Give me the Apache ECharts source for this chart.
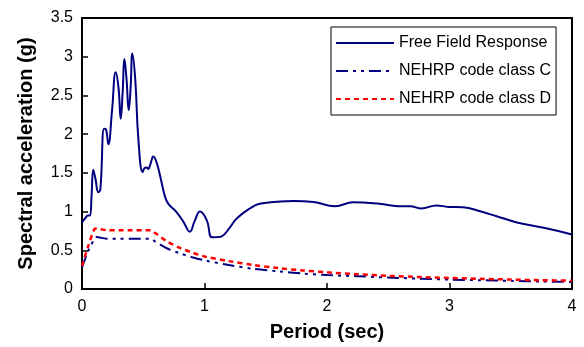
<!DOCTYPE html>
<html>
<head>
<meta charset="utf-8">
<script src="https://cdn.jsdelivr.net/npm/echarts@6/dist/echarts.min.js"></script>
<style>
html,body{margin:0;padding:0;background:#fff;}
#chart{width:584px;height:347px;}
</style>
</head>
<body>
<div id="chart"></div>
<script>
// Free field response
var ffPeriod = [0, 0.024, 0.05, 0.065, 0.078, 0.092, 0.11, 0.133, 0.15, 0.18, 0.196, 0.215, 0.245, 0.275, 0.298, 0.316, 0.332, 0.346, 0.364, 0.381, 0.397, 0.411, 0.435, 0.46, 0.495, 0.51, 0.528, 0.54, 0.56, 0.582, 0.61, 0.637, 0.678, 0.705, 0.773, 0.827, 0.88, 0.92, 0.963, 1.018, 1.06, 1.1, 1.14, 1.2, 1.263, 1.37, 1.45, 1.62, 1.725, 1.89, 2.065, 2.215, 2.43, 2.58, 2.68, 2.77, 2.895, 2.99, 3.11, 3.25, 3.385, 3.55, 3.77, 4.0];
var ffAccel  = [0.86, 0.91, 0.95, 0.95, 1.2, 1.54, 1.42, 1.25, 1.29, 2.07, 2.06, 1.87, 2.3, 2.80, 2.6, 2.20, 2.55, 2.97, 2.7, 2.31, 2.6, 3.04, 2.7, 1.94, 1.51, 1.56, 1.57, 1.55, 1.62, 1.71, 1.63, 1.465, 1.19, 1.10, 0.99, 0.87, 0.74, 0.88, 1.0, 0.89, 0.667, 0.67, 0.68, 0.78, 0.91, 1.04, 1.10, 1.13, 1.137, 1.124, 1.07, 1.12, 1.10, 1.07, 1.07, 1.04, 1.08, 1.06, 1.055, 1.004, 0.94, 0.86, 0.79, 0.705];

// NEHRP code spectra
var codePeriod = [0, 0.05, 0.1, 0.12, 0.2, 0.3, 0.4, 0.5, 0.56, 0.6, 0.7, 0.8, 0.9, 1.0, 1.2, 1.4, 1.6, 1.8, 2.0, 2.25, 2.5, 2.75, 3.0, 3.25, 3.5, 3.75, 4.0];
var classC = [0.28, 0.49, 0.64, 0.67, 0.65, 0.65, 0.65, 0.65, 0.65, 0.61, 0.52, 0.46, 0.41, 0.37, 0.31, 0.26, 0.23, 0.20, 0.18, 0.165, 0.148, 0.134, 0.122, 0.113, 0.105, 0.097, 0.091];
var classD = [0.30, 0.55, 0.77, 0.78, 0.76, 0.76, 0.76, 0.76, 0.76, 0.72, 0.61, 0.53, 0.47, 0.42, 0.36, 0.31, 0.27, 0.24, 0.215, 0.19, 0.17, 0.155, 0.143, 0.132, 0.122, 0.114, 0.107];

var seriesNames = ['Free Field Response', 'NEHRP code class C', 'NEHRP code class D'];

function pairs(xs, ys) { return xs.map(function (x, i) { return [x, ys[i]]; }); }

var FONT = '"Liberation Sans", Arial, sans-serif';
var chart = echarts.init(document.getElementById('chart'));
chart.setOption({
  animation: false,
  backgroundColor: '#fff',
  textStyle: { fontFamily: FONT },
  grid: { left: 82, top: 18, right: 12, bottom: 56, show: true, borderColor: '#000', borderWidth: 2, backgroundColor: 'transparent' },
  legend: {
    orient: 'vertical', left: 331, top: 27,
    padding: [8, 5, 8, 4], itemGap: 12, itemWidth: 58, itemHeight: 14,
    borderColor: '#000', borderWidth: 1, backgroundColor: '#fff',
    itemStyle: { opacity: 0 },
    textStyle: { fontSize: 16, color: '#000', fontFamily: FONT },
    data: seriesNames
  },
  xAxis: {
    type: 'value', min: 0, max: 4, interval: 1,
    name: 'Period (sec)', nameLocation: 'middle', nameGap: 33,
    nameTextStyle: { fontSize: 20, fontWeight: 'bold', color: '#000', fontFamily: FONT },
    axisLine: { lineStyle: { color: '#000', width: 2 } },
    axisTick: { inside: true, length: 6, lineStyle: { color: '#000', width: 1.5 } },
    axisLabel: { fontSize: 16, color: '#000', margin: 10, fontFamily: FONT },
    splitLine: { show: false }
  },
  yAxis: {
    type: 'value', min: 0, max: 3.5, interval: 0.5,
    name: 'Spectral acceleration (g)', nameLocation: 'middle', nameGap: 46, nameRotate: 90,
    nameTextStyle: { fontSize: 20, fontWeight: 'bold', color: '#000', fontFamily: FONT },
    axisLine: { lineStyle: { color: '#000', width: 2 } },
    axisTick: { inside: true, length: 6, lineStyle: { color: '#000', width: 1.5 } },
    axisLabel: { fontSize: 16, color: '#000', margin: 9, fontFamily: FONT },
    splitLine: { show: false }
  },
  series: [
    { name: seriesNames[0], type: 'line', symbol: 'none', smooth: 0.45,
      data: pairs(ffPeriod, ffAccel), color: '#000080',
      lineStyle: { color: '#000080', width: 2 } },
    { name: seriesNames[1], type: 'line', symbol: 'none', smooth: 0.3,
      data: pairs(codePeriod, classC), color: '#000080',
      lineStyle: { color: '#000080', width: 2, type: [12, 5, 3, 5, 3, 5] } },
    { name: seriesNames[2], type: 'line', symbol: 'none', smooth: 0.3,
      data: pairs(codePeriod, classD), color: '#ff0000',
      lineStyle: { color: '#ff0000', width: 2.5, type: [5, 4] } }
  ]
});
</script>
</body>
</html>
